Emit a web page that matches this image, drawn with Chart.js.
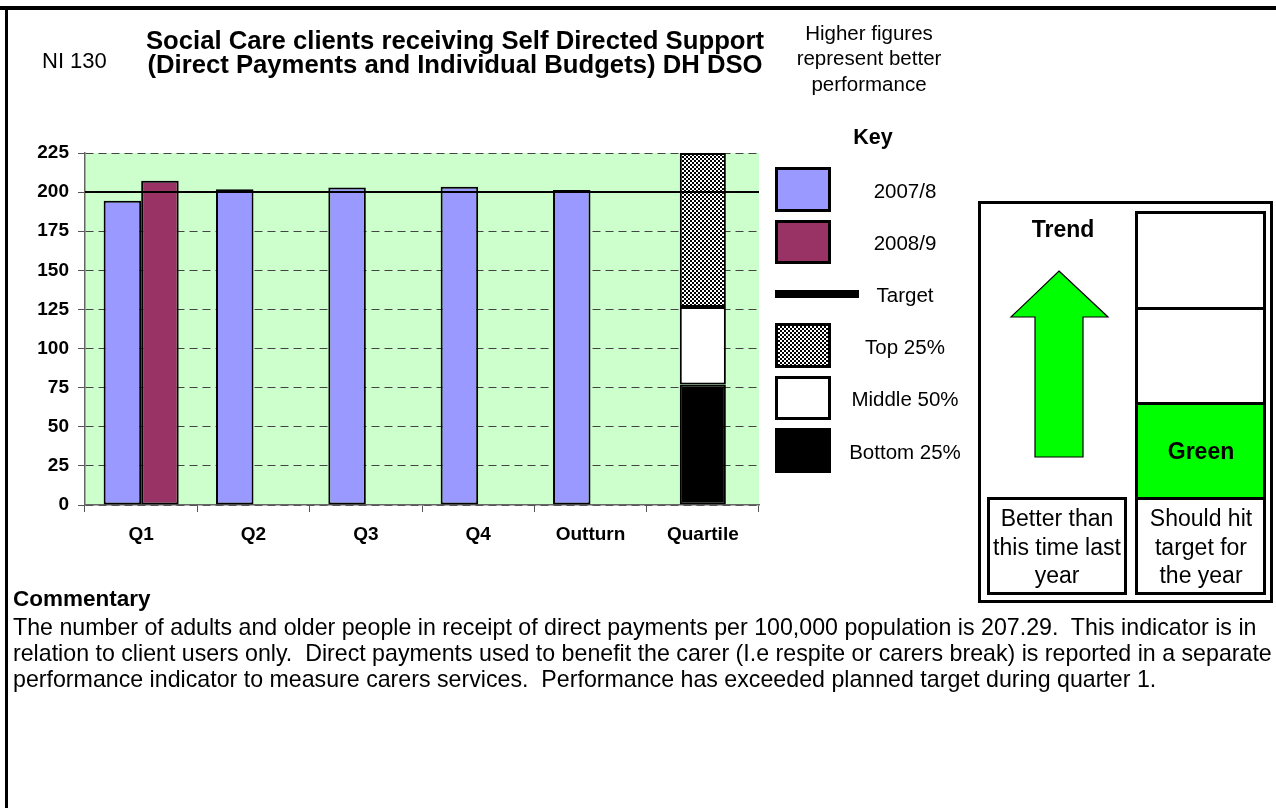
<!DOCTYPE html>
<html>
<head>
<meta charset="utf-8">
<script src="https://cdn.jsdelivr.net/npm/chart.js@4.4.1/dist/chart.umd.min.js"></script>
<style>
  body { margin: 0; background: #fff; overflow: hidden; font-family: "Liberation Sans", Arial, sans-serif; color: #000; }
  #page { position: relative; width: 1276px; height: 808px; }
  #chart { position: absolute; left: 0; top: 0; }
  .t { position: absolute; white-space: nowrap; line-height: 1; transform: translate(-50%, -50%); }
  .l { position: absolute; white-space: pre; line-height: 1; }
  .b { font-weight: bold; }
  .box { position: absolute; box-sizing: border-box; border: 3px solid #000; }
  .rule { position: absolute; background: #000; }
</style>
</head>
<body>
<div id="page">
  <canvas id="chart" width="1276" height="808"></canvas>

  <!-- page frame -->
  <div class="rule" style="left:0;top:6px;width:1276px;height:4px"></div>
  <div class="rule" style="left:5px;top:6px;width:3px;height:802px"></div>

  <!-- header -->
  <div class="l" style="left:42px;top:50px;font-size:22px">NI 130</div>
  <div class="t b" style="left:455px;top:41px;font-size:25.7px">Social Care clients receiving Self Directed Support</div>
  <div class="t b" style="left:455px;top:65px;font-size:25.7px">(Direct Payments and Individual Budgets) DH DSO</div>
  <div class="t" style="left:869px;top:33px;font-size:20.5px">Higher figures</div>
  <div class="t" style="left:869px;top:58px;font-size:20.5px">represent better</div>
  <div class="t" style="left:869px;top:84px;font-size:20.5px">performance</div>

  <!-- key -->
  <div class="t b" style="left:873px;top:138px;font-size:21.5px">Key</div>
  <div id="key"></div>

  <!-- trend panel -->
  <div class="box" style="left:978px;top:201px;width:295px;height:402px"></div>
  <div class="t b" style="left:1063px;top:229px;font-size:23px">Trend</div>
  <svg style="position:absolute;left:0;top:0" width="1276" height="808">
    <polygon points="1059,271 1108,317 1083,317 1083,457 1035,457 1035,317 1011,317"
             fill="#00FF00" stroke="#000" stroke-width="1.2"/>
  </svg>
  <div class="box" style="left:1135px;top:211px;width:131px;height:99px"></div>
  <div class="box" style="left:1135px;top:307px;width:131px;height:98px"></div>
  <div class="box" style="left:1135px;top:402px;width:131px;height:98px;background:#00FF00"></div>
  <div class="t b" style="left:1201px;top:451px;font-size:23px">Green</div>
  <div class="box" style="left:987px;top:497px;width:140px;height:98px"></div>
  <div class="box" style="left:1135px;top:497px;width:131px;height:98px"></div>
  <div class="t" style="left:1057px;top:518px;font-size:23px">Better than</div>
  <div class="t" style="left:1057px;top:547px;font-size:23px">this time last</div>
  <div class="t" style="left:1057px;top:575px;font-size:23px">year</div>
  <div class="t" style="left:1201px;top:518px;font-size:23px">Should hit</div>
  <div class="t" style="left:1201px;top:547px;font-size:23px">target for</div>
  <div class="t" style="left:1201px;top:575px;font-size:23px">the year</div>

  <!-- commentary -->
  <div class="l b" style="left:13px;top:588px;font-size:22.5px">Commentary</div>
  <div class="l" style="left:13px;top:614px;font-size:23.2px;line-height:26px">The number of adults and older people in receipt of direct payments per 100,000 population is 207.29.  This indicator is in
relation to client users only.  Direct payments used to benefit the carer (I.e respite or carers break) is reported in a separate
performance indicator to measure carers services.  Performance has exceeded planned target during quarter 1.</div>
</div>

<script>
// NI 130 quarterly figures
const categories = ['Q1', 'Q2', 'Q3', 'Q4', 'Outturn', 'Quartile'];
const values2007 = [194.5, 201.8, 202.9, 203.5, 201.4, null];
const values2008 = [207.29, null, null, null, null, null];
const target = 200;

// comparator quartile bands, stacked in the last column
const quartileBottom = [null, null, null, null, null, 77];
const quartileMiddle = [null, null, null, null, null, 49.5];
const quartileTop = [null, null, null, null, null, 98.5];

const yMin = 0, yMax = 225, yStep = 25;

const COL_2007 = '#9999FF';
const COL_2008 = '#993366';
const PLOT_BG = '#CCFFCC';

// small checkerboard used for the top quartile
function checker() {
  const c = document.createElement('canvas');
  c.width = 4; c.height = 4;
  const g = c.getContext('2d');
  g.fillStyle = '#000'; g.fillRect(0, 0, 4, 4);
  g.fillStyle = '#fff'; g.fillRect(0, 0, 2, 2); g.fillRect(2, 2, 2, 2);
  return g.createPattern(c, 'repeat');
}
const checkerFill = checker();

// key swatches
const keyItems = [
  { label: '2007/8', top: 167, h: 45, fill: COL_2007 },
  { label: '2008/9', top: 220, h: 44, fill: COL_2008 },
  { label: 'Target', top: 290, h: 8, line: true },
  { label: 'Top 25%', top: 323, h: 45, fill: 'repeating-conic-gradient(#000 0 25%, #fff 0 50%) 0 0 / 4px 4px' },
  { label: 'Middle 50%', top: 376, h: 44, fill: '#fff' },
  { label: 'Bottom 25%', top: 428, h: 45, fill: '#000' }
];
const key = document.getElementById('key');
keyItems.forEach(k => {
  const sw = document.createElement('div');
  if (k.line) {
    sw.className = 'rule';
    sw.style.cssText = `left:775px;top:${k.top}px;width:84px;height:${k.h}px`;
  } else {
    sw.className = 'box';
    sw.style.cssText = `left:775px;top:${k.top}px;width:56px;height:${k.h}px;background:${k.fill}`;
  }
  key.appendChild(sw);
  const tx = document.createElement('div');
  tx.className = 't';
  tx.style.cssText = `left:905px;top:${k.top + k.h / 2 + 1}px;font-size:20.5px`;
  tx.textContent = k.label;
  key.appendChild(tx);
});

const plotBackground = {
  id: 'plotBackground',
  beforeDraw(chart) {
    const { ctx, chartArea: a } = chart;
    ctx.save();
    ctx.fillStyle = PLOT_BG;
    ctx.fillRect(a.left, a.top, a.right - a.left, a.bottom - a.top);
    ctx.restore();
  }
};

const targetLine = {
  id: 'targetLine',
  afterDatasetsDraw(chart) {
    const { ctx, chartArea: a, scales } = chart;
    const y = scales.y.getPixelForValue(target);
    ctx.save();
    ctx.strokeStyle = '#000';
    ctx.lineWidth = 2;
    ctx.beginPath();
    ctx.moveTo(a.left, y);
    ctx.lineTo(a.right, y);
    ctx.stroke();
    ctx.restore();
  }
};

Chart.defaults.font.family = '"Liberation Sans", Arial, sans-serif';
Chart.defaults.color = '#000';

// quartile column sits centred in its category, outside the year grouping
const quartileBar = { stack: 'q', grouped: false, categoryPercentage: 1, barPercentage: 0.41 };

new Chart(document.getElementById('chart'), {
  type: 'bar',
  data: {
    labels: categories,
    datasets: [
      { label: '2007/8', data: values2007, backgroundColor: COL_2007, stack: 'a' },
      { label: '2008/9', data: values2008, backgroundColor: COL_2008, stack: 'b' },
      { label: 'Bottom 25%', data: quartileBottom, backgroundColor: '#000', ...quartileBar },
      { label: 'Middle 50%', data: quartileMiddle, backgroundColor: '#fff', ...quartileBar },
      { label: 'Top 25%', data: quartileTop, backgroundColor: checkerFill, ...quartileBar }
    ]
  },
  options: {
    responsive: false,
    animation: false,
    events: [],
    layout: { padding: { left: 0, top: 153, right: 517, bottom: 263 } },
    datasets: {
      bar: {
        borderColor: '#000',
        borderWidth: 2,
        borderSkipped: false,
        barPercentage: 1,
        categoryPercentage: 0.668
      }
    },
    plugins: { legend: { display: false }, tooltip: { enabled: false } },
    scales: {
      x: {
        grid: { drawOnChartArea: false, tickLength: 7, color: '#555' },
        border: { color: '#666', width: 1.5 },
        ticks: { font: { size: 19, weight: 'bold' }, padding: 11 },
        afterFit(s) { s.height = 40; }
      },
      y: {
        stacked: true,
        min: yMin,
        max: yMax,
        ticks: { stepSize: yStep, font: { size: 19, weight: 'bold' }, padding: 9 },
        grid: { color: '#444', tickLength: 7, tickColor: '#555' },
        border: { dash: [8, 5], color: '#666', width: 1.5 },
        afterFit(s) { s.width = 85; }
      }
    }
  },
  plugins: [plotBackground, targetLine]
});
</script>
</body>
</html>
